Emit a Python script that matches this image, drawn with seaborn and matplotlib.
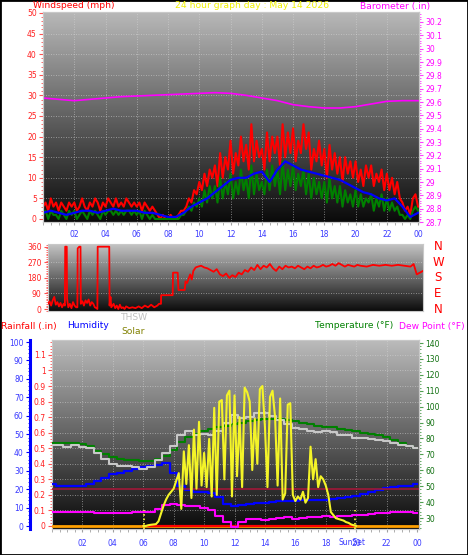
import numpy as np
import pandas as pd
import seaborn as sns
import matplotlib.pyplot as plt
from matplotlib.colors import LinearSegmentedColormap
from matplotlib.patches import Rectangle
from matplotlib.ticker import MultipleLocator, FuncFormatter

# ---------------- data ----------------
# wind, 10 minute samples (mph)
wind_gust = [
    3, 4, 2, 5, 3, 4,   2, 4, 3, 2, 4, 3,   4, 2, 3, 5, 3, 2,   4, 3, 5, 4, 2, 4,
    3, 5, 4, 3, 5, 3,   4, 3, 5, 4, 3, 4,   3, 4, 2, 4, 3, 2,   3, 2, 1, 0, 1, 0,
    0, 1, 0, 0, 1, 2,   2, 3, 5, 4, 7, 6,   9, 7, 11, 8, 12, 10,   13, 8, 16, 10, 15, 12,
    19, 11, 16, 13, 20, 14,   18, 12, 23, 14, 19, 15,   17, 12, 21, 14, 20, 16,   20, 13, 23, 15, 21, 16,
    22, 14, 19, 16, 23, 17,   21, 12, 17, 14, 19, 13,   17, 10, 18, 12, 16, 11,   15, 9, 15, 11, 14, 10,
    14, 9, 12, 8, 13, 10,   13, 8, 11, 9, 12, 7,   11, 7, 10, 6, 9, 5,   4, 2, 3, 1, 5, 6,
    3]
wind_speed = [
    1, 2, 0, 2, 1, 1,   0, 2, 1, 0, 2, 1,   2, 0, 1, 2, 1, 0,   2, 1, 2, 1, 0, 2,
    1, 2, 2, 1, 2, 1,   2, 1, 2, 2, 1, 2,   1, 2, 0, 2, 1, 0,   1, 0, 0, 0, 0, 0,
    0, 0, 0, 0, 0, 1,   1, 2, 3, 2, 4, 3,   5, 3, 7, 4, 8, 5,   8, 4, 10, 5, 9, 6,
    11, 5, 9, 6, 12, 7,   10, 5, 13, 6, 11, 7,   9, 6, 12, 7, 13, 8,   12, 6, 14, 7, 12, 8,
    13, 7, 11, 8, 12, 6,   11, 5, 10, 6, 9, 5,   9, 4, 10, 5, 8, 4,   8, 3, 7, 4, 6, 3,
    7, 3, 6, 3, 5, 4,   6, 2, 5, 3, 6, 2,   5, 2, 4, 2, 3, 1,   1, 0, 1, 0, 2, 3,
    2]
# 30 minute average wind
wind_avg = [1.5, 2, 1.5, 1, 1.5, 2, 2, 1.5, 2, 2.5, 2, 2, 2, 1.5, 1.5, 1, 0.5, 0.5,
            1.5, 3, 4, 5, 6.5, 8, 9.5, 10, 10, 11, 11.5, 9, 12, 14, 13, 12, 11.5, 11,
            10.5, 10, 9.5, 8.5, 7.5, 6.5, 6, 5, 4.5, 5, 3, 0.5, 1.5]
# hourly barometer (in)
barometer = [29.63, 29.62, 29.61, 29.62, 29.63, 29.64, 29.645, 29.65, 29.655, 29.66,
             29.665, 29.67, 29.665, 29.65, 29.63, 29.61, 29.58, 29.565, 29.555, 29.555,
             29.565, 29.585, 29.605, 29.61, 29.61]

# wind direction (hour, degrees)
dir_hours = [0.0, 0.1, 0.2, 0.3, 0.4, 0.5, 0.6, 0.7, 0.8, 0.9, 1.0, 1.08, 1.1, 1.2, 1.22,
             1.3, 1.4, 1.5, 1.6, 1.7, 1.8, 1.88, 1.9, 2.0, 2.08, 2.1, 2.2, 2.3, 2.4, 2.5,
             2.6, 2.7, 2.8, 2.9, 3.0, 3.1, 3.16, 3.18, 3.92, 3.94, 4.0, 4.05, 4.2, 4.3,
             4.4, 4.5, 4.6, 4.7, 4.8, 4.9, 5.0, 5.2, 5.4, 5.6, 5.8, 6.0, 6.2, 6.4, 6.6,
             6.8, 7.0, 7.1, 7.23, 7.24, 7.98, 8.0, 8.3, 8.35, 8.75, 8.8, 8.9, 9.0, 9.1,
             9.2, 9.3, 9.45, 9.6, 9.8, 10.0, 10.2, 10.4, 10.6, 10.8, 11.0, 11.2, 11.4,
             11.6, 11.8, 12.0, 12.2, 12.4, 12.6, 12.8, 13.0, 13.2, 13.4, 13.6, 13.8,
             14.0, 14.2, 14.4, 14.6, 14.8, 15.0, 15.2, 15.4, 15.6, 15.8, 16.0, 16.2,
             16.4, 16.6, 16.8, 17.0, 17.2, 17.4, 17.6, 17.8, 18.0, 18.2, 18.4, 18.6,
             18.8, 19.0, 19.2, 19.4, 19.6, 19.8, 20.0, 20.4, 20.8, 21.2, 21.6, 22.0,
             22.4, 22.8, 23.2, 23.4, 23.6, 23.8, 24.0]
dir_deg = [30, 45, 20, 50, 70, 25, 40, 15, 35, 10, 30, 20, 360, 360, 60,
           10, 30, 5, 40, 20, 10, 10, 350, 360, 360, 30, 45, 20, 50, 35,
           55, 20, 40, 30, 10, 5, 0, 360, 360, 20, 70, 10, 30, 5,
           20, 0, 25, 5, 10, 0, 15, 5, 10, 5, 15, 5, 20, 10, 25,
           10, 20, 30, 30, 80, 80, 210, 210, 110, 110, 160, 150, 175, 200,
           170, 220, 240, 245, 250, 240, 235, 225, 215, 230, 200, 190, 205,
           180, 195, 185, 210, 200, 225, 215, 240, 225, 255, 230, 250,
           240, 260, 235, 220, 245, 230, 250, 240, 245, 235, 250, 240,
           230, 245, 235, 250, 240, 245, 255, 245, 250, 260, 250, 265,
           255, 245, 255, 250, 245, 255, 250, 245, 255, 250, 255, 250,
           255, 250, 245, 260, 200, 210, 220]

# 30 minute samples for the lower panel
temperature = [77, 77, 77, 77, 76.5, 75, 72, 70, 68.5, 67, 66.5, 66.5, 66, 66, 67, 69,
               73, 78, 81, 83, 85, 86, 87, 88, 89, 90, 91, 91.5, 92, 92, 92, 91.5, 91,
               90, 89, 88, 87.5, 87, 86, 85.5, 84.5, 83.5, 82.5, 82, 81, 79, 77, 75, 74]
thsw = [76, 76, 74.5, 76, 74.5, 74, 71, 67, 64, 63, 62.5, 62, 61, 62, 66.5, 71, 75,
        82, 85, 82, 82.5, 82, 85, 90, 95, 93, 93.5, 96, 96, 94, 91.5, 89, 86.5, 86,
        85, 84, 85, 84, 82, 82, 80.5, 80, 79.5, 79, 78.5, 77, 76, 75, 74]
humidity = [23, 21.5, 21.5, 21.5, 22, 23, 24.5, 26, 28, 29, 30, 31, 32, 32.5, 33, 34,
            29, 22, 19.5, 18.5, 18.5, 18, 16, 12, 11, 11.5, 12, 12.5, 12.5, 13, 13.5,
            13.5, 13.5, 14, 14, 14, 14, 14.5, 15, 15.5, 16.5, 17.5, 18.5, 19.5, 20.5,
            21, 21.5, 22, 23]
dew_point = [34, 33.5, 33.5, 33.5, 33.5, 33.5, 33, 33, 33, 33, 33, 33.5, 33.5, 34,
             35.5, 38, 38.5, 38, 37.5, 37.5, 36.5, 35, 31, 27.5, 24.5, 27.5, 29.5, 29.5,
             29, 29.5, 30, 30.5, 29.5, 30, 30.5, 30.5, 31, 30.5, 31, 31.5, 32, 32, 32.5,
             33, 33, 33.5, 33.5, 33.5, 33]
ref_line_f = [48.4, 48.4]  # constant maroon trace
# solar radiation (W/m2), 10 minute samples 06:00 - 20:00
solar = [0, 0, 5, 8, 10, 12,   30, 80, 130, 170, 200, 220,   240, 290, 340, 110, 480, 270,
         520, 180, 620, 240, 670, 260,   470, 250, 560, 190, 760, 200,   800, 810, 300, 840, 870, 190,
         840, 320, 700, 250, 890, 860,   800, 360, 690, 400, 880, 900,   640, 250, 830, 870, 700, 260,
         820, 170, 210, 780, 790, 200,   160, 190, 170, 220, 150, 180,   510, 300, 430, 250, 320, 300,
         260, 200, 90, 70, 50, 45,   40, 35, 25, 20, 10, 5,   0]
rain_rate = [0.0] * 25
rain_day = [0.0] * 15          # drawn 06:00 - 20:00
sun_events = [6.05, 19.9]
hour_labels = ['02', '04', '06', '08', '10', '12', '14', '16', '18', '20', '22', '00']

t10 = np.arange(len(wind_gust)) / 6
t30 = np.arange(len(wind_avg)) / 2
t60 = np.arange(len(barometer))
t30b = np.arange(len(temperature)) / 2
t_solar = 6 + np.arange(len(solar)) / 6

W, H = 468, 555
fig = plt.figure(figsize=(W / 100, H / 100), dpi=100)
fig.patches.append(Rectangle((0, 0), 1, 1, transform=fig.transFigure, fill=False,
                             edgecolor='black', lw=2))


def box(l, t, r, b):
    return [l / W, 1 - b / H, (r - l) / W, (b - t) / H]


def gradient(ax, top, bottom):
    cmap = LinearSegmentedColormap.from_list('bg', [bottom, top])
    ax.imshow(np.linspace(0, 1, 256).reshape(-1, 1), cmap=cmap, origin='lower',
              extent=(0, 1, 0, 1), transform=ax.transAxes, aspect='auto', zorder=0)


def frame(ax):
    for s in ax.spines.values():
        s.set_color('#c8c8c8')


fmt = FuncFormatter(lambda v, p: f'{round(v, 1):g}')
grid_kw = dict(color='#d8d8d8', lw=0.6, ls=(0, (1, 2)), alpha=0.7, zorder=1)
blue_lab = '#3a3aff'

# ---------------- panel 1 : wind + barometer ----------------
ax1 = fig.add_axes(box(43, 12, 419, 222))
gradient(ax1, '#b8b8b8', '#0a0a0a')
for v in range(5, 50, 5):
    ax1.axhline(v, **grid_kw)
for h in range(2, 24, 2):
    ax1.axvline(h, **grid_kw)
sns.lineplot(x=t10, y=wind_gust, ax=ax1, color='#ff0000', lw=1.5, zorder=3)
sns.lineplot(x=t10, y=wind_speed, ax=ax1, color='#008000', lw=1.5, zorder=4)
sns.lineplot(x=t30, y=wind_avg, ax=ax1, color='#0000ff', lw=1.6, zorder=5)
ax1.set_xlim(0, 24.06)
ax1.set_ylim(-0.73, 50.24)
ax1.yaxis.set_major_locator(MultipleLocator(5))
ax1.yaxis.set_minor_locator(MultipleLocator(1))
ax1.tick_params(axis='y', which='both', colors='#ff5050', labelcolor='#ff2020', labelsize=5.5, pad=1.5)
ax1.tick_params(axis='y', which='major', length=3)
ax1.tick_params(axis='y', which='minor', length=1.5)
ax1.set_xticks(range(2, 25, 2))
ax1.set_xticklabels(hour_labels)
ax1.xaxis.set_minor_locator(MultipleLocator(0.5))
ax1.tick_params(axis='x', which='both', colors='#a0a0a0', labelcolor=blue_lab, labelsize=5.5, length=2, pad=4)
ax1.set_xlabel('')
ax1.set_ylabel('')
frame(ax1)

ax1b = ax1.twinx()
sns.lineplot(x=t60, y=barometer, ax=ax1b, color='#ff00ff', lw=1.2)
ax1b.set_ylim(28.70, 30.275)
ax1b.yaxis.set_major_locator(MultipleLocator(0.1))
ax1b.yaxis.set_minor_locator(MultipleLocator(0.02))
ax1b.yaxis.set_major_formatter(fmt)
ax1b.tick_params(axis='y', which='both', colors='#ff40ff', labelcolor='#ff00ff', labelsize=5.5, pad=1.5)
ax1b.tick_params(axis='y', which='major', length=3)
ax1b.tick_params(axis='y', which='minor', length=1.5)
ax1b.set_ylabel('')
frame(ax1b)

# ---------------- panel 2 : wind direction ----------------
ax2 = fig.add_axes(box(48, 244, 423, 311))
gradient(ax2, '#c4c4c4', '#0c0c0c')
for v in (90, 180, 270):
    ax2.axhline(v, **grid_kw)
sns.lineplot(x=dir_hours, y=dir_deg, ax=ax2, color='#ff0000', lw=1.3, zorder=3)
ax2.set_xlim(0, 24)
ax2.set_ylim(-11.5, 375.6)
ax2.set_yticks([0, 90, 180, 270, 360])
ax2.yaxis.set_minor_locator(MultipleLocator(10))
ax2.tick_params(axis='y', which='both', colors='#ff5050', labelcolor='#ff2020', labelsize=5.5, pad=1.5)
ax2.tick_params(axis='y', which='major', length=3)
ax2.tick_params(axis='y', which='minor', length=1.5)
ax2.set_xticks([])
ax2.set_xlabel('')
ax2.set_ylabel('')
frame(ax2)
for d, lab in zip([360, 270, 180, 90, 0], ['N', 'W', 'S', 'E', 'N']):
    ax2.text(1.04, d, lab, transform=ax2.get_yaxis_transform(), color='#ff0000',
             fontsize=8.5, ha='center', va='center')

# ---------------- panel 3 : rain / humidity / temperature ----------------
ax3 = fig.add_axes(box(52, 340, 419, 529))
gradient(ax3, '#bcbcbc', '#0a0a0a')
for v in np.arange(0.1, 1.2, 0.1):
    ax3.axhline(v, **grid_kw)
for h in range(2, 24, 2):
    ax3.axvline(h, **grid_kw)
sns.lineplot(x=t60, y=rain_rate, ax=ax3, color='#ffa000', lw=2, zorder=3)
sns.lineplot(x=6 + np.arange(len(rain_day)), y=rain_day, ax=ax3, color='#ff0000', lw=1.6, zorder=4)
ax3.vlines(sun_events, -0.02, 0.1, colors='#ffff40', linestyles=':', lw=1.2, zorder=5)
ax3.set_xlim(0, 24.13)
ax3.set_ylim(-0.0193, 1.196)
ax3.set_yticks(np.arange(0, 1.15, 0.1))
ax3.yaxis.set_minor_locator(MultipleLocator(0.02))
ax3.yaxis.set_major_formatter(fmt)
ax3.tick_params(axis='y', which='both', colors='#ff5050', labelcolor='#ff2020', labelsize=5.5, pad=1.5)
ax3.tick_params(axis='y', which='major', length=3)
ax3.tick_params(axis='y', which='minor', length=1.5)
ax3.set_xticks(range(2, 25, 2))
ax3.set_xticklabels(hour_labels)
ax3.xaxis.set_minor_locator(MultipleLocator(0.5))
ax3.tick_params(axis='x', which='both', colors='#a0a0a0', labelcolor=blue_lab, labelsize=5.5, length=2, pad=5)
ax3.text(19.75, -0.074, 'SunSet', transform=ax3.get_xaxis_transform(), color=blue_lab,
         fontsize=5.5, ha='center', va='center')
ax3.set_xlabel('')
ax3.set_ylabel('')
frame(ax3)

ax3h = ax3.twinx()
sns.lineplot(x=t30b, y=humidity, ax=ax3h, color='#0000ff', lw=1.6, drawstyle='steps-mid')
ax3h.set_ylim(-1.63, 101.1)
ax3h.yaxis.tick_left()
ax3h.spines['left'].set_visible(True)
ax3h.spines['left'].set_position(('axes', -0.06))
ax3h.spines['left'].set_color('#0000ff')
ax3h.spines['left'].set_linewidth(2.2)
ax3h.spines['right'].set_visible(False)
ax3h.spines['top'].set_visible(False)
ax3h.spines['bottom'].set_visible(False)
ax3h.yaxis.set_major_locator(MultipleLocator(10))
ax3h.yaxis.set_minor_locator(MultipleLocator(2))
ax3h.tick_params(axis='y', which='both', colors='#0000ff', labelcolor=blue_lab, labelsize=5.5, pad=1.5)
ax3h.tick_params(axis='y', which='major', length=3)
ax3h.tick_params(axis='y', which='minor', length=1.5)
ax3h.set_ylabel('')

ax3t = ax3.twinx()
sns.lineplot(x=t30b, y=temperature, ax=ax3t, color='#008000', lw=1.5, drawstyle='steps-mid')
sns.lineplot(x=t30b, y=thsw, ax=ax3t, color='#c8c8c8', lw=1.5, drawstyle='steps-mid')
sns.lineplot(x=t30b, y=dew_point, ax=ax3t, color='#ff00ff', lw=1.5, drawstyle='steps-mid')
sns.lineplot(x=[0, 24.13], y=ref_line_f, ax=ax3t, color='#a01838', lw=1.2)
ax3t.set_ylim(23.09, 141.9)
ax3t.yaxis.set_major_locator(MultipleLocator(10))
ax3t.yaxis.set_minor_locator(MultipleLocator(2))
ax3t.set_yticks(range(30, 141, 10))
ax3t.tick_params(axis='y', which='both', colors='#50a050', labelcolor='#107010', labelsize=5.5, pad=1.5)
ax3t.tick_params(axis='y', which='major', length=3)
ax3t.tick_params(axis='y', which='minor', length=1.5)
ax3t.set_ylabel('')
frame(ax3t)
ax3t.spines['left'].set_visible(False)

ax3s = ax3.twinx()
sns.lineplot(x=t_solar, y=solar, ax=ax3s, color='#f4f428', lw=1.5)
ax3s.set_ylim(-19.3, 1196)
ax3s.axis('off')
for a in (ax3h, ax3t, ax3s):
    a.set_xlim(0, 24.13)

# ---------------- header texts ----------------
fs = 6.6
fig.text(33 / W, 1 - 6 / H, 'Windspeed (mph)', color='#ff0000', fontsize=fs, va='center')
fig.text(252 / W, 1 - 6 / H, '24 hour graph day : May 14 2026', color='#f0f000',
         fontsize=fs, va='center', ha='center')
fig.text(430 / W, 1 - 6 / H, 'Barometer (.in)', color='#ff00ff', fontsize=fs, va='center', ha='right')
fig.text(1 / W, 1 - 326 / H, 'Rainfall (.in)', color='#ff0000', fontsize=fs, va='center')
fig.text(67 / W, 1 - 326 / H, 'Humidity', color='#0000ff', fontsize=fs, va='center')
fig.text(121 / W, 1 - 318 / H, 'THSW', color='#c0c0c0', fontsize=fs, va='center')
fig.text(121 / W, 1 - 332 / H, 'Solar', color='#808000', fontsize=fs, va='center')
fig.text(393 / W, 1 - 326 / H, 'Temperature (°F)', color='#008000', fontsize=fs, va='center', ha='right')
fig.text(465 / W, 1 - 326 / H, 'Dew Point (°F)', color='#ff00ff', fontsize=fs, va='center', ha='right')

fig.savefig('out.png', dpi=100, facecolor='white')
